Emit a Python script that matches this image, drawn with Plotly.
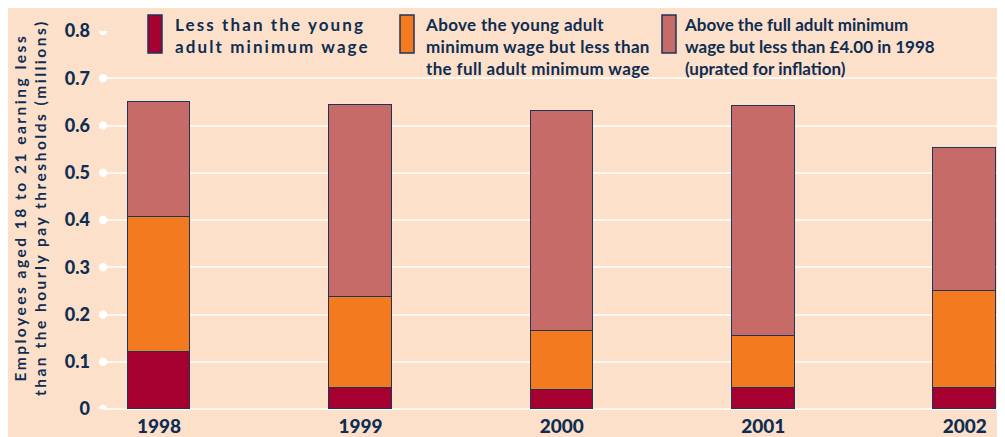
import plotly.graph_objects as go

years = ["1998", "1999", "2000", "2001", "2002"]
below_young = [0.120, 0.044, 0.040, 0.044, 0.044]
young_to_full = [0.286, 0.193, 0.125, 0.111, 0.206]
full_to_4 = [0.244, 0.406, 0.466, 0.486, 0.302]
series_names = [
    "Less than the young<br>adult minimum wage",
    "Above the young adult<br>minimum wage but less than<br>the full adult minimum wage",
    "Above the full adult minimum<br>wage but less than £4.00 in 1998<br>(uprated for inflation)",
]
y_ticks = [0, 0.1, 0.2, 0.3, 0.4, 0.5, 0.6, 0.7, 0.8]
y_title = "Employees aged 18 to 21 earning less<br>than the hourly pay thresholds (millions)"

BG = "#FDE0CA"
NAVY = "#0E2D52"
EDGE = "#1C355A"
colors = ["#A60030", "#F47A20", "#C76B69"]
FONT = "Lato"

# page body has an 8px margin: lay out in screen pixels, then offset
OFF = 8
W, H = 1005 - OFF, 437 - OFF
L, T = 103 - OFF, 31 - OFF
B = H - (409 - OFF)
R = 0
pw, ph = W - L - R, H - T - B


def px_x(p):
    return (p - OFF - L) / pw


def px_y(p):
    return (409 - p) / ph


fig = go.Figure()
for vals, name, col in zip([below_young, young_to_full, full_to_4], series_names, colors):
    fig.add_trace(go.Bar(
        x=years, y=vals, name=name, marker=dict(color=col, line=dict(color=EDGE, width=1.5)),
        width=0.31, showlegend=False,
    ))

shapes = []
# cover the top grid line behind the legend
shapes.append(dict(type="rect", xref="paper", yref="paper", x0=px_x(138), x1=px_x(1015),
                   y0=px_y(26), y1=px_y(36), fillcolor=BG, line=dict(width=0), layer="above"))
# dots at the start of each grid line
for v in y_ticks:
    shapes.append(dict(type="circle", xref="paper", yref="y", xsizemode="pixel", ysizemode="pixel",
                       xanchor=0, yanchor=v, x0=-4.2, x1=4.2, y0=-4.2, y1=4.2,
                       fillcolor="white", line=dict(width=0), layer="above"))

annotations = []
leg_rect_x = [148, 400, 662]
leg_text_x = [173, 423, 682]
leg_spacing = [2.1, 0.35, 0]
for rx, tx, sp, name, col in zip(leg_rect_x, leg_text_x, leg_spacing, series_names, colors):
    shapes.append(dict(type="rect", xref="paper", yref="paper", x0=px_x(rx), x1=px_x(rx + 14),
                       y0=px_y(53), y1=px_y(15), fillcolor=col, line=dict(color=EDGE, width=1.5),
                       layer="above"))
    annotations.append(dict(xref="paper", yref="paper", x=px_x(tx), y=px_y(12), xanchor="left",
                            yanchor="top",
                            text=f'<span style="letter-spacing:{sp}px"><b>' + name + "</b></span>",
                            showarrow=False, align="left",
                            font=dict(family=FONT, size=17, color=NAVY)))

annotations.append(dict(xref="paper", yref="paper", x=px_x(9), y=px_y(208), xanchor="left",
                        yanchor="middle",
                        text='<span style="letter-spacing:2.5px"><b>' + y_title + "</b></span>",
                        textangle=-90, showarrow=False, font=dict(family=FONT, size=15.5, color=NAVY)))

fig.update_layout(
    width=W, height=H, margin=dict(l=L, r=R, t=T, b=B, autoexpand=False),
    paper_bgcolor=BG, plot_bgcolor=BG, barmode="stack", bargap=0,
    shapes=shapes, annotations=annotations,
    font=dict(family=FONT, color=NAVY),
)
fig.update_xaxes(range=[-0.278, 4.2], showgrid=False, zeroline=False, showline=False, ticks="",
                 automargin=False, ticklabelstandoff=4,
                 tickfont=dict(family=FONT, size=19, color=NAVY, weight=900))
fig.update_yaxes(range=[0, 0.8], tickvals=y_ticks,
                 ticktext=[("0" if v == 0 else f"{v:.1f}") for v in y_ticks],
                 showgrid=True, gridcolor="#FFF8F0", gridwidth=2, zeroline=True, zerolinecolor="#FFF8F0",
                 zerolinewidth=2, showline=False, ticks="", ticklabelstandoff=12, automargin=False,
                 tickfont=dict(family=FONT, size=18, color=NAVY, weight=900))

fig.write_html("out.html")
